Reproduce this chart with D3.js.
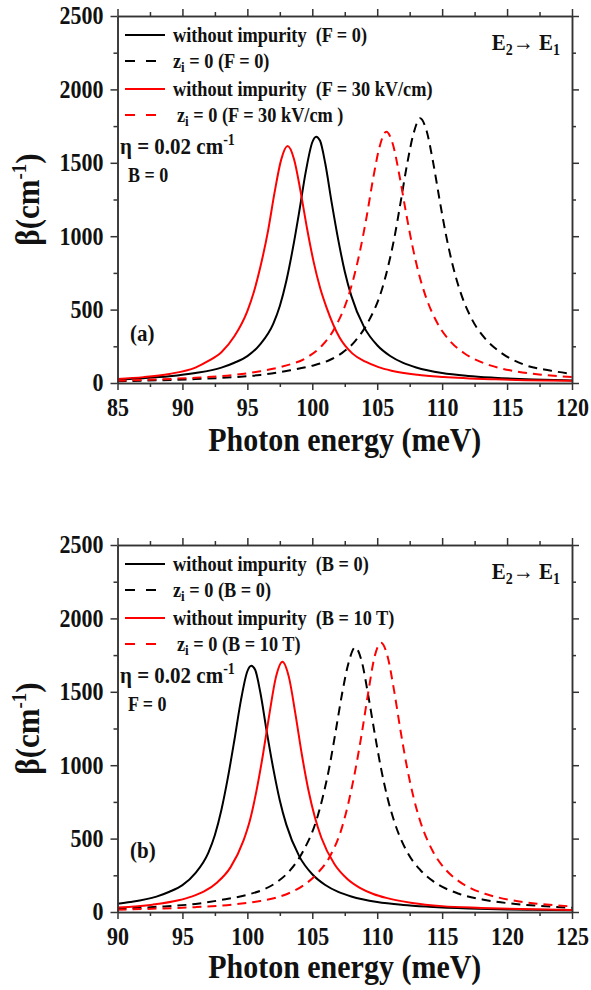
<!DOCTYPE html>
<html>
<head>
<meta charset="utf-8">
<script src="https://cdnjs.cloudflare.com/ajax/libs/d3/7.8.5/d3.min.js"></script>
<style>
  body { margin: 0; background: #fff; }
  svg { display: block; }
  text {
    font-family: "Liberation Serif", "Times New Roman", serif;
    font-weight: bold;
    fill: #111;
    white-space: pre;
    transform-box: fill-box;
    transform-origin: center;
    transform: scaleY(1.12);
  }
</style>
</head>
<body>
<div id="chart"></div>
<script>
// ---- panel (a): electric field ----
var a_noImp_F0_x = [85, 87, 89, 91, 93, 94, 95, 96, 97, 97.5, 98, 98.5, 99, 99.5, 100, 100.3, 100.6, 101, 101.5, 102, 102.5, 103, 104, 105, 106, 107, 108, 110, 112, 114, 117, 120];
var a_noImp_F0_y = [24, 33, 46, 68, 105, 138, 183, 265, 405, 525, 695, 915, 1170, 1440, 1640, 1678, 1650, 1495, 1225, 975, 760, 595, 379, 257, 184, 137, 106, 68, 48, 36, 24, 17];

var a_zi0_F0_x = [85, 88, 91, 94, 96, 98, 100, 101.3, 102.3, 103.3, 104.3, 105.3, 105.8, 106.3, 106.8, 107.3, 107.8, 108.3, 108.8, 109.3, 109.8, 110.3, 110.8, 111.3, 112.3, 113.3, 114.3, 116.3, 118.3, 120];
var a_zi0_F0_y = [12, 18, 27, 40, 55, 82, 118, 155, 205, 285, 415, 620, 780, 980, 1230, 1490, 1700, 1803, 1718, 1506, 1249, 1007, 807, 649, 433, 304, 222, 125, 85, 62];

var a_noImp_F30_x = [85, 87, 89, 91, 92, 93, 94, 95, 95.5, 96, 96.6, 97.1, 97.6, 98.1, 98.6, 99.1, 99.6, 100.1, 100.6, 101.1, 102.1, 103.1, 104.1, 105.1, 106.1, 108.1, 110.1, 114.1, 118, 120];
var a_noImp_F30_y = [28, 40, 62, 105, 150, 210, 318, 490, 620, 790, 1040, 1300, 1520, 1614, 1523, 1304, 1051, 827, 649, 514, 310, 200, 145, 108, 84, 56, 41, 25, 17, 15];

var a_zi0_F30_x = [85, 88, 91, 94, 96, 97.7, 99.7, 100.7, 101.7, 102.7, 103.2, 103.7, 104.2, 104.7, 105.2, 105.7, 106.2, 106.7, 107.2, 107.7, 108.2, 108.7, 109.7, 110.7, 111.7, 112.7, 113.7, 115.7, 117.7, 120];
var a_zi0_F30_y = [15, 24, 36, 55, 80, 112, 180, 250, 370, 570, 720, 910, 1140, 1400, 1615, 1712, 1628, 1419, 1169, 938, 747, 599, 397, 277, 203, 154, 120, 79, 56, 40];

// ---- panel (b): magnetic field ----
var b_noImp_B0_x = [90, 91, 93, 94, 95, 96, 97, 97.5, 98, 98.5, 99, 99.5, 100, 100.3, 100.6, 101, 101.5, 102, 102.5, 103, 104, 105, 106, 107, 108, 110, 112, 114, 117, 120, 122, 125];
var b_noImp_B0_y = [56, 68, 105, 138, 183, 265, 405, 525, 695, 915, 1170, 1440, 1640, 1678, 1650, 1495, 1225, 975, 760, 595, 379, 257, 184, 137, 106, 68, 48, 36, 24, 17, 15, 12];

var b_zi0_B0_x = [90, 93, 96, 98, 100, 101.3, 102.3, 103.3, 104.3, 105.3, 105.8, 106.3, 106.8, 107.3, 107.8, 108.3, 108.8, 109.3, 109.8, 110.3, 110.8, 111.3, 112.3, 113.3, 114.3, 116.3, 118.3, 120.3, 122.3, 125];
var b_zi0_B0_y = [22, 35, 55, 82, 118, 155, 205, 285, 415, 620, 780, 980, 1230, 1490, 1700, 1803, 1710, 1480, 1220, 975, 775, 620, 410, 288, 210, 124, 82, 58, 43, 29];

var b_noImp_B10_x = [90, 92.7, 94.7, 95.7, 96.7, 97.7, 98.7, 99.7, 100.2, 100.7, 101.2, 101.7, 102.2, 102.7, 103.2, 103.7, 104.2, 104.7, 105.2, 105.7, 106.7, 107.7, 108.7, 109.7, 110.7, 112.7, 115, 118, 121, 125];
var b_noImp_B10_y = [30, 50, 80, 105, 142, 203, 304, 486, 625, 825, 1071, 1350, 1600, 1705, 1600, 1350, 1071, 831, 645, 506, 327, 225, 163, 123, 96, 62, 40, 28, 20, 14];

var b_zi0_B10_x = [90, 93, 96, 99, 101, 102.3, 103.3, 104.3, 105.3, 106.3, 107.3, 107.8, 108.3, 108.8, 109.3, 109.8, 110.3, 110.8, 111.3, 111.8, 112.3, 112.8, 113.3, 114.3, 115.3, 116.3, 117.3, 118.3, 120.3, 122.3, 125];
var b_zi0_B10_y = [16, 23, 33, 52, 75, 100, 132, 180, 255, 370, 580, 750, 960, 1210, 1490, 1740, 1834, 1740, 1508, 1233, 983, 780, 622, 411, 286, 209, 158, 124, 81, 57, 38];

// ---- ticks and labels ----
var xTicksA = [85, 90, 95, 100, 105, 110, 115, 120];
var xTicksB = [90, 95, 100, 105, 110, 115, 120, 125];
var yTicks = [0, 500, 1000, 1500, 2000, 2500];
var legendA = ["without impurity  (F = 0)", "(F = 0)", "without impurity  (F = 30 kV/cm)", "(F = 30 kV/cm )"];
var legendB = ["without impurity  (B = 0)", "(B = 0)", "without impurity  (B = 10 T)", "(B = 10 T)"];

var width = 591, height = 990;
var left = 117.5, right = 572;

var svg = d3.select("#chart").append("svg")
  .attr("width", width)
  .attr("height", height);

function styleAxis(g, size) {
  g.attr("font-size", size);
  g.select(".domain").attr("stroke", "#333").attr("stroke-width", 1.5);
  g.selectAll(".tick line").attr("stroke", "#333").attr("stroke-width", 1.5);
}

function drawPanel(p) {
  var xScale = d3.scaleLinear().domain(p.xDomain).range([left, right]);
  var yScale = d3.scaleLinear().domain([0, 2500]).range([p.bottom, p.top]);

  var xMinor = d3.range(p.xDomain[0] + 2.5, p.xDomain[1], 5);
  var yMinor = d3.range(250, 2500, 500);

  svg.append("defs").append("clipPath")
    .attr("id", p.id)
    .append("rect")
    .attr("x", left).attr("y", p.top)
    .attr("width", right - left).attr("height", p.bottom - p.top);

  var valueline = d3.line()
    .curve(d3.curveMonotoneX)
    .x(function (d) { return xScale(d[0]); })
    .y(function (d) { return yScale(d[1]); });

  var plot = svg.append("g").attr("clip-path", "url(#" + p.id + ")");
  p.series.forEach(function (s) {
    plot.append("path")
      .datum(d3.zip(s.x, s.y))
      .attr("fill", "none")
      .attr("stroke", s.color)
      .attr("stroke-width", 2)
      .attr("stroke-dasharray", s.dashed ? "9,6" : null)
      .attr("d", valueline);
  });

  // bottom axis
  svg.append("g").attr("transform", "translate(0," + p.bottom + ")")
    .call(d3.axisBottom(xScale).tickValues(xMinor).tickSize(4).tickSizeOuter(0).tickFormat(""))
    .call(styleAxis, 22);
  svg.append("g").attr("transform", "translate(0," + p.bottom + ")")
    .call(d3.axisBottom(xScale).tickValues(p.xTicks).tickSize(7).tickSizeOuter(0).tickPadding(9).tickFormat(d3.format("d")))
    .call(styleAxis, 22);
  // top axis
  svg.append("g").attr("transform", "translate(0," + p.top + ")")
    .call(d3.axisTop(xScale).tickValues(xMinor).tickSize(4).tickSizeOuter(0).tickFormat(""))
    .call(styleAxis, 22);
  svg.append("g").attr("transform", "translate(0," + p.top + ")")
    .call(d3.axisTop(xScale).tickValues(p.xTicks).tickSize(7).tickSizeOuter(0).tickFormat(""))
    .call(styleAxis, 22);
  // left axis
  svg.append("g").attr("transform", "translate(" + left + ",0)")
    .call(d3.axisLeft(yScale).tickValues(yMinor).tickSize(4).tickSizeOuter(0).tickFormat(""))
    .call(styleAxis, 22);
  svg.append("g").attr("transform", "translate(" + left + ",0)")
    .call(d3.axisLeft(yScale).tickValues(yTicks).tickSize(7).tickSizeOuter(0).tickPadding(7).tickFormat(d3.format("d")))
    .call(styleAxis, 22);
  // right axis
  svg.append("g").attr("transform", "translate(" + right + ",0)")
    .call(d3.axisRight(yScale).tickValues(yMinor).tickSize(4).tickSizeOuter(0).tickFormat(""))
    .call(styleAxis, 22);
  svg.append("g").attr("transform", "translate(" + right + ",0)")
    .call(d3.axisRight(yScale).tickValues(yTicks).tickSize(7).tickSizeOuter(0).tickFormat(""))
    .call(styleAxis, 22);

  // axis titles
  svg.append("text")
    .attr("x", (left + right) / 2).attr("y", p.titleY)
    .attr("text-anchor", "middle")
    .attr("font-size", 30)
    .text("Photon energy (meV)");

  var yt = svg.append("g")
    .attr("transform", "translate(38," + (p.top + p.bottom) / 2 + ") rotate(-90)")
    .append("text")
    .attr("text-anchor", "middle")
    .attr("font-size", 31);
  yt.append("tspan").text("β(cm");
  yt.append("tspan").attr("font-size", 19).attr("dy", -12).text("-1");
  yt.append("tspan").attr("dy", 12).text(")");

  // legend
  var legY = [35, 61, 89, 115].map(function (v) { return v + p.top - 16; });
  p.series.forEach(function (s, i) {
    svg.append("line")
      .attr("x1", 125).attr("x2", 165)
      .attr("y1", legY[i]).attr("y2", legY[i])
      .attr("stroke", s.color).attr("stroke-width", 2)
      .attr("stroke-dasharray", s.dashed ? "10,11" : null);
    var t = svg.append("text")
      .attr("x", i === 3 ? 177 : 173)
      .attr("y", legY[i] + 6)
      .attr("font-size", 18.3);
    if (s.dashed) {
      t.append("tspan").text("z");
      t.append("tspan").attr("font-size", 13).attr("dy", 4).text("i");
      t.append("tspan").attr("dy", -4).text(" = 0 " + p.legend[i]);
    } else {
      t.text(p.legend[i]);
    }
  });

  // transition label
  var et = svg.append("text")
    .attr("x", 560).attr("y", p.top + 33)
    .attr("text-anchor", "end")
    .attr("font-size", 21);
  et.append("tspan").text("E");
  et.append("tspan").attr("font-size", 14).attr("dy", 5).text("2");
  et.append("tspan").attr("dy", -5).text("→ E");
  et.append("tspan").attr("font-size", 14).attr("dy", 5).text("1");

  var eta = svg.append("text")
    .attr("x", 120).attr("y", p.top + 137)
    .attr("font-size", 21);
  eta.append("tspan").text("η = 0.02 cm");
  eta.append("tspan").attr("font-size", 14).attr("dy", -8).text("-1");

  svg.append("text")
    .attr("x", 128).attr("y", p.top + 165)
    .attr("font-size", 18)
    .text(p.fieldNote);

  svg.append("text")
    .attr("x", 130).attr("y", p.tagY)
    .attr("font-size", 21)
    .text(p.tag);
}

drawPanel({
  id: "clipA", xDomain: [85, 120], xTicks: xTicksA,
  top: 16, bottom: 383, titleY: 450, tagY: 340,
  legend: legendA, fieldNote: "B = 0", tag: "(a)",
  series: [
    { x: a_noImp_F0_x, y: a_noImp_F0_y, color: "#000", dashed: false },
    { x: a_zi0_F0_x, y: a_zi0_F0_y, color: "#000", dashed: true },
    { x: a_noImp_F30_x, y: a_noImp_F30_y, color: "#ff0000", dashed: false },
    { x: a_zi0_F30_x, y: a_zi0_F30_y, color: "#ff0000", dashed: true }
  ]
});

drawPanel({
  id: "clipB", xDomain: [90, 125], xTicks: xTicksB,
  top: 545, bottom: 912, titleY: 977, tagY: 857,
  legend: legendB, fieldNote: "F = 0", tag: "(b)",
  series: [
    { x: b_noImp_B0_x, y: b_noImp_B0_y, color: "#000", dashed: false },
    { x: b_zi0_B0_x, y: b_zi0_B0_y, color: "#000", dashed: true },
    { x: b_noImp_B10_x, y: b_noImp_B10_y, color: "#ff0000", dashed: false },
    { x: b_zi0_B10_x, y: b_zi0_B10_y, color: "#ff0000", dashed: true }
  ]
});
</script>
</body>
</html>
